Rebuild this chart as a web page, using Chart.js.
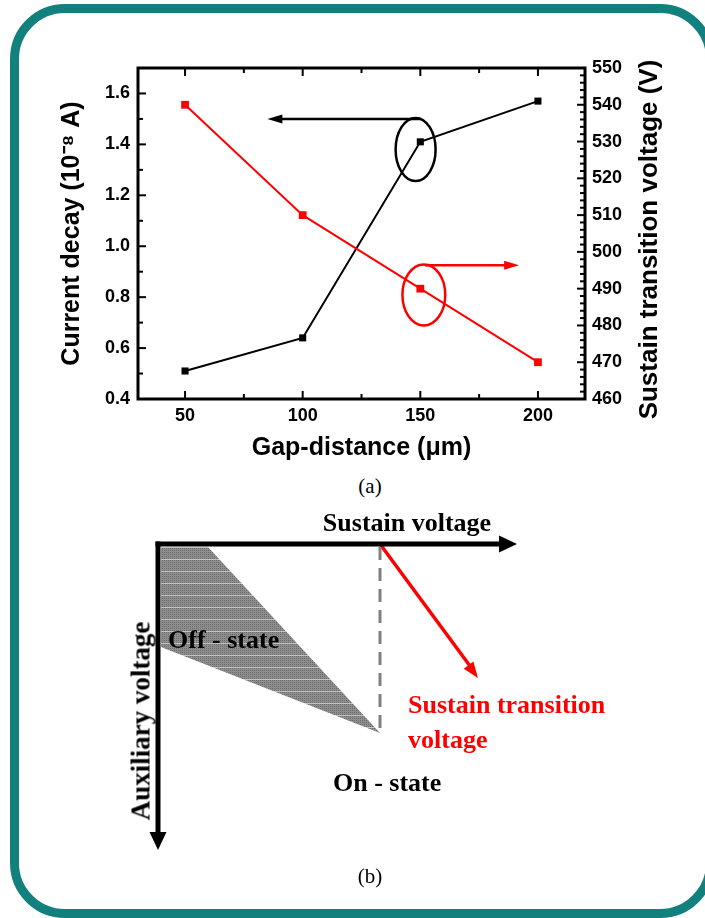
<!DOCTYPE html>
<html><head><meta charset="utf-8">
<script src="https://cdn.jsdelivr.net/npm/chart.js@4/dist/chart.umd.min.js"></script>
<style>
body{margin:0;width:705px;height:918px;position:relative;overflow:hidden;background:#fff;}
#frame{position:absolute;left:10px;top:4px;width:686.5px;height:895.5px;border:9.5px solid #12807c;border-radius:55px;}
.t{position:absolute;white-space:nowrap;line-height:1;transform:translate(-50%,-50%);font-family:'Liberation Serif','Times New Roman',serif;}
.b{font-weight:bold;font-size:26px;}
.cap{font-size:21px;}
</style></head><body>
<div id="frame"></div>
<canvas id="ca" width="705" height="470" style="position:absolute;left:0;top:0"></canvas>
<div class="t cap" style="left:370px;top:486px">(a)</div>
<canvas id="cb" width="560" height="400" style="position:absolute;left:120px;top:500px"></canvas>
<div class="t b" style="left:407px;top:523px">Sustain voltage</div>
<div class="t b" style="left:168px;top:640px;transform:translate(0,-50%)">Off - state</div>
<div class="t b" style="left:333px;top:783px;transform:translate(0,-50%)">On - state</div>
<div class="t b" style="left:141px;top:721px;font-size:27px;transform:translate(-50%,-50%) rotate(-90deg)">Auxiliary voltage</div>
<div class="t b" style="left:408px;top:705px;transform:translate(0,-50%);color:#ff0000">Sustain transition</div>
<div class="t b" style="left:408px;top:740px;transform:translate(0,-50%);color:#ff0000">voltage</div>
<div class="t cap" style="left:370px;top:876px">(b)</div>
<script>
// ---------- data (a) ----------
const gapDistance = [50, 100, 150, 200];
const currentDecay = [0.51, 0.64, 1.41, 1.57];
const transitionVoltage = [540, 510, 490, 470];
const xTickValues = [50, 100, 150, 200];
const xMinorTicks = [75, 125, 175];
const leftTickValues = [0.4, 0.6, 0.8, 1.0, 1.2, 1.4, 1.6];
const leftMinorTicks = [0.5, 0.7, 0.9, 1.1, 1.3, 1.5, 1.7];
const rightTickValues = [460, 470, 480, 490, 500, 510, 520, 530, 540, 550];
const rightMinorTicks = [];
for (let v = 462; v < 550; v += 2) if (v % 10 !== 0) rightMinorTicks.push(v);
const rightTitle = 'Sustain transition voltage (V)';

// annotation marks (in data units)
const blackEllipse = {x: 148, y: 1.38, rx: 8.5, ry: 0.124};
const blackArrow = {from: [150, 1.5], to: [85, 1.5]};
const redEllipse = {x: 151.5, y: 488.3, rx: 9.1, ry: 8.3};
const redArrow = {from: [152, 496.4], to: [192, 496.4]};

function arrowHead(ctx, fx, fy, tx, ty, len, half, color) {
  const ang = Math.atan2(ty - fy, tx - fx);
  ctx.save();
  ctx.translate(tx, ty); ctx.rotate(ang);
  ctx.fillStyle = color;
  ctx.beginPath(); ctx.moveTo(0, 0); ctx.lineTo(-len, -half); ctx.lineTo(-len, half); ctx.closePath(); ctx.fill();
  ctx.restore();
}

const tickFont = {family: "'Liberation Sans', Arial, sans-serif", size: 18, weight: 'bold'};
const titleFont = {family: "'Liberation Sans', Arial, sans-serif", size: 25, weight: 'bold'};

const framePlugin = {
  id: 'frameTicks',
  afterDatasetsDraw(chart) {
    const {ctx, chartArea: a, scales: {x, y, y1}} = chart;
    ctx.save();
    ctx.strokeStyle = '#000'; ctx.lineWidth = 2;
    const seg = (x1, yy1, x2, yy2) => { ctx.beginPath(); ctx.moveTo(x1, yy1); ctx.lineTo(x2, yy2); ctx.stroke(); };
    xTickValues.forEach(v => { const p = x.getPixelForValue(v); seg(p, a.bottom, p, a.bottom - 8); seg(p, a.top, p, a.top + 8); });
    xMinorTicks.forEach(v => { const p = x.getPixelForValue(v); seg(p, a.bottom, p, a.bottom - 5); seg(p, a.top, p, a.top + 5); });
    leftTickValues.forEach(v => { const p = y.getPixelForValue(v); seg(a.left, p, a.left + 8, p); });
    leftMinorTicks.forEach(v => { const p = y.getPixelForValue(v); seg(a.left, p, a.left + 5, p); });
    rightTickValues.forEach(v => { const p = y1.getPixelForValue(v); seg(a.right, p, a.right - 8, p); });
    rightMinorTicks.forEach(v => { const p = y1.getPixelForValue(v); seg(a.right, p, a.right - 5, p); });
    ctx.lineWidth = 3;
    ctx.strokeRect(a.left, a.top, a.right - a.left, a.bottom - a.top);

    const drawEllipse = (e, ys, color) => {
      const cx = x.getPixelForValue(e.x), cy = ys.getPixelForValue(e.y);
      const rx = Math.abs(x.getPixelForValue(e.x + e.rx) - cx);
      const ry = Math.abs(ys.getPixelForValue(e.y + e.ry) - cy);
      ctx.strokeStyle = color; ctx.lineWidth = 2.5;
      ctx.beginPath(); ctx.ellipse(cx, cy, rx, ry, 0, 0, Math.PI * 2); ctx.stroke();
    };
    const drawArrow = (ar, ys, color) => {
      const fx = x.getPixelForValue(ar.from[0]), fy = ys.getPixelForValue(ar.from[1]);
      const tx = x.getPixelForValue(ar.to[0]), ty = ys.getPixelForValue(ar.to[1]);
      ctx.strokeStyle = color; ctx.lineWidth = 2.5;
      const dir = Math.sign(tx - fx);
      seg(fx, fy, tx - dir * 10, ty);
      arrowHead(ctx, fx, fy, tx, ty, 15, 4.5, color);
    };
    drawEllipse(blackEllipse, y, '#000');
    drawArrow(blackArrow, y, '#000');
    drawEllipse(redEllipse, y1, '#ff0000');
    drawArrow(redArrow, y1, '#ff0000');

    // right axis title, reading bottom-to-top
    ctx.save();
    ctx.translate(650, (a.top + a.bottom) / 2 + 6);
    ctx.rotate(-Math.PI / 2);
    ctx.font = "bold 26px 'Liberation Sans', Arial, sans-serif";
    ctx.fillStyle = '#000'; ctx.textAlign = 'center'; ctx.textBaseline = 'middle';
    ctx.fillText(rightTitle, 0, 0);
    ctx.restore();
    ctx.restore();
  }
};

new Chart(document.getElementById('ca'), {
  type: 'line',
  data: {
    datasets: [
      {
        label: 'Sustain transition voltage',
        data: gapDistance.map((g, i) => ({x: g, y: transitionVoltage[i]})),
        yAxisID: 'y1', borderColor: '#ff0000', backgroundColor: '#ff0000', borderWidth: 2,
        pointStyle: 'rect', pointRadius: 5.5, pointBorderWidth: 0, tension: 0
      },
      {
        label: 'Current decay',
        data: gapDistance.map((g, i) => ({x: g, y: currentDecay[i]})),
        yAxisID: 'y', borderColor: '#000', backgroundColor: '#000', borderWidth: 2,
        pointStyle: 'rect', pointRadius: 5, pointBorderWidth: 0, tension: 0
      }
    ]
  },
  options: {
    responsive: false, animation: false, devicePixelRatio: 1,
    layout: {padding: {top: 68, left: 0, right: 0, bottom: 0}},
    plugins: {legend: {display: false}, tooltip: {enabled: false}},
    scales: {
      x: {
        type: 'linear', min: 30, max: 220,
        grid: {display: false, drawTicks: false}, border: {display: false},
        afterBuildTicks: s => { s.ticks = xTickValues.map(v => ({value: v})); },
        afterFit: s => { s.height = 71; },
        ticks: {font: tickFont, color: '#000', padding: 6, maxRotation: 0, callback: v => String(v)},
        title: {display: true, text: 'Gap-distance (\u03bcm)', font: titleFont, color: '#000', padding: {top: 0, bottom: 7}}
      },
      y: {
        type: 'linear', position: 'left', min: 0.4, max: 1.7,
        grid: {display: false, drawTicks: false}, border: {display: false},
        afterBuildTicks: s => { s.ticks = leftTickValues.map(v => ({value: v})); },
        afterFit: s => { s.width = 138; },
        ticks: {font: tickFont, color: '#000', padding: 8, callback: v => Number(v).toFixed(1)},
        title: {display: true, text: 'Current decay (10\u207b\u2078 A)', font: titleFont, color: '#000', padding: {top: 57, bottom: 0}}
      },
      y1: {
        type: 'linear', position: 'right', min: 460, max: 550,
        grid: {display: false, drawTicks: false}, border: {display: false},
        afterBuildTicks: s => { s.ticks = rightTickValues.map(v => ({value: v})); },
        afterFit: s => { s.width = 120; },
        ticks: {font: tickFont, color: '#000', padding: 7, callback: v => String(v)},
        title: {display: false}
      }
    }
  },
  plugins: [framePlugin]
});

// ---------- schematic (b) ----------
const sustainAxisLine = [{x: -2.5, y: 0}, {x: 345, y: 0}];
const sustainAxisTip = [{x: 330, y: 0}, {x: 359, y: 0}];
const auxAxisLine = [{x: 0, y: -2.5}, {x: 0, y: 292}];
const auxAxisTip = [{x: 0, y: 280}, {x: 0, y: 306}];
const offStateRegion = [{x: 3, y: 3}, {x: 50, y: 3}, {x: 222, y: 189}, {x: 3, y: 103}, {x: 3, y: 3}];
const onsetDashLine = [{x: 222, y: 3}, {x: 222, y: 189}];
const transitionArrowLine = [{x: 222, y: 0}, {x: 312, y: 122}];
const transitionArrowTip = [{x: 222, y: 0}, {x: 320, y: 134}];

function makePattern() {
  const c = document.createElement('canvas'); c.width = 12; c.height = 12;
  const g = c.getContext('2d');
  g.fillStyle = '#8e8e8e'; g.fillRect(0, 0, 12, 12);
  g.fillStyle = '#6a6a6a';
  for (let i = 0; i < 12; i += 2) for (let j = 0; j < 12; j += 2) g.fillRect(i, j, 1, 1);
  g.fillStyle = '#c4c4c4'; g.fillRect(0, 11, 12, 1);
  return g.createPattern(c, 'repeat');
}

const tipPlugin = {
  id: 'tips',
  afterDatasetsDraw(chart) {
    const {ctx, scales: {x, y}} = chart;
    const head = (pts, len, half, color) => {
      arrowHead(ctx, x.getPixelForValue(pts[0].x), y.getPixelForValue(pts[0].y),
        x.getPixelForValue(pts[1].x), y.getPixelForValue(pts[1].y), len, half, color);
    };
    head(sustainAxisTip, 18, 8.5, '#000');
    head(auxAxisTip, 18, 8.5, '#000');
    head(transitionArrowTip, 16, 6, '#ff0000');
  }
};

const lineDs = (data, color, width, extra) => Object.assign({
  data, showLine: true, borderColor: color, borderWidth: width, pointRadius: 0, fill: false, clip: false, tension: 0
}, extra || {});

new Chart(document.getElementById('cb'), {
  type: 'scatter',
  data: {
    datasets: [
      lineDs(offStateRegion, 'rgba(0,0,0,0)', 0, {fill: 'shape', backgroundColor: makePattern()}),
      lineDs(onsetDashLine, '#808080', 3, {borderDash: [13, 8]}),
      lineDs(sustainAxisLine, '#000', 5),
      lineDs(auxAxisLine, '#000', 5),
      lineDs(transitionArrowLine, '#ff0000', 3.5)
    ]
  },
  options: {
    responsive: false, animation: false, devicePixelRatio: 1,
    layout: {padding: 0},
    plugins: {legend: {display: false}, tooltip: {enabled: false}},
    scales: {
      x: {type: 'linear', display: false, min: -38, max: 522},
      y: {type: 'linear', display: false, min: -44, max: 356, reverse: true}
    }
  },
  plugins: [tipPlugin]
});
</script>
</body></html>
